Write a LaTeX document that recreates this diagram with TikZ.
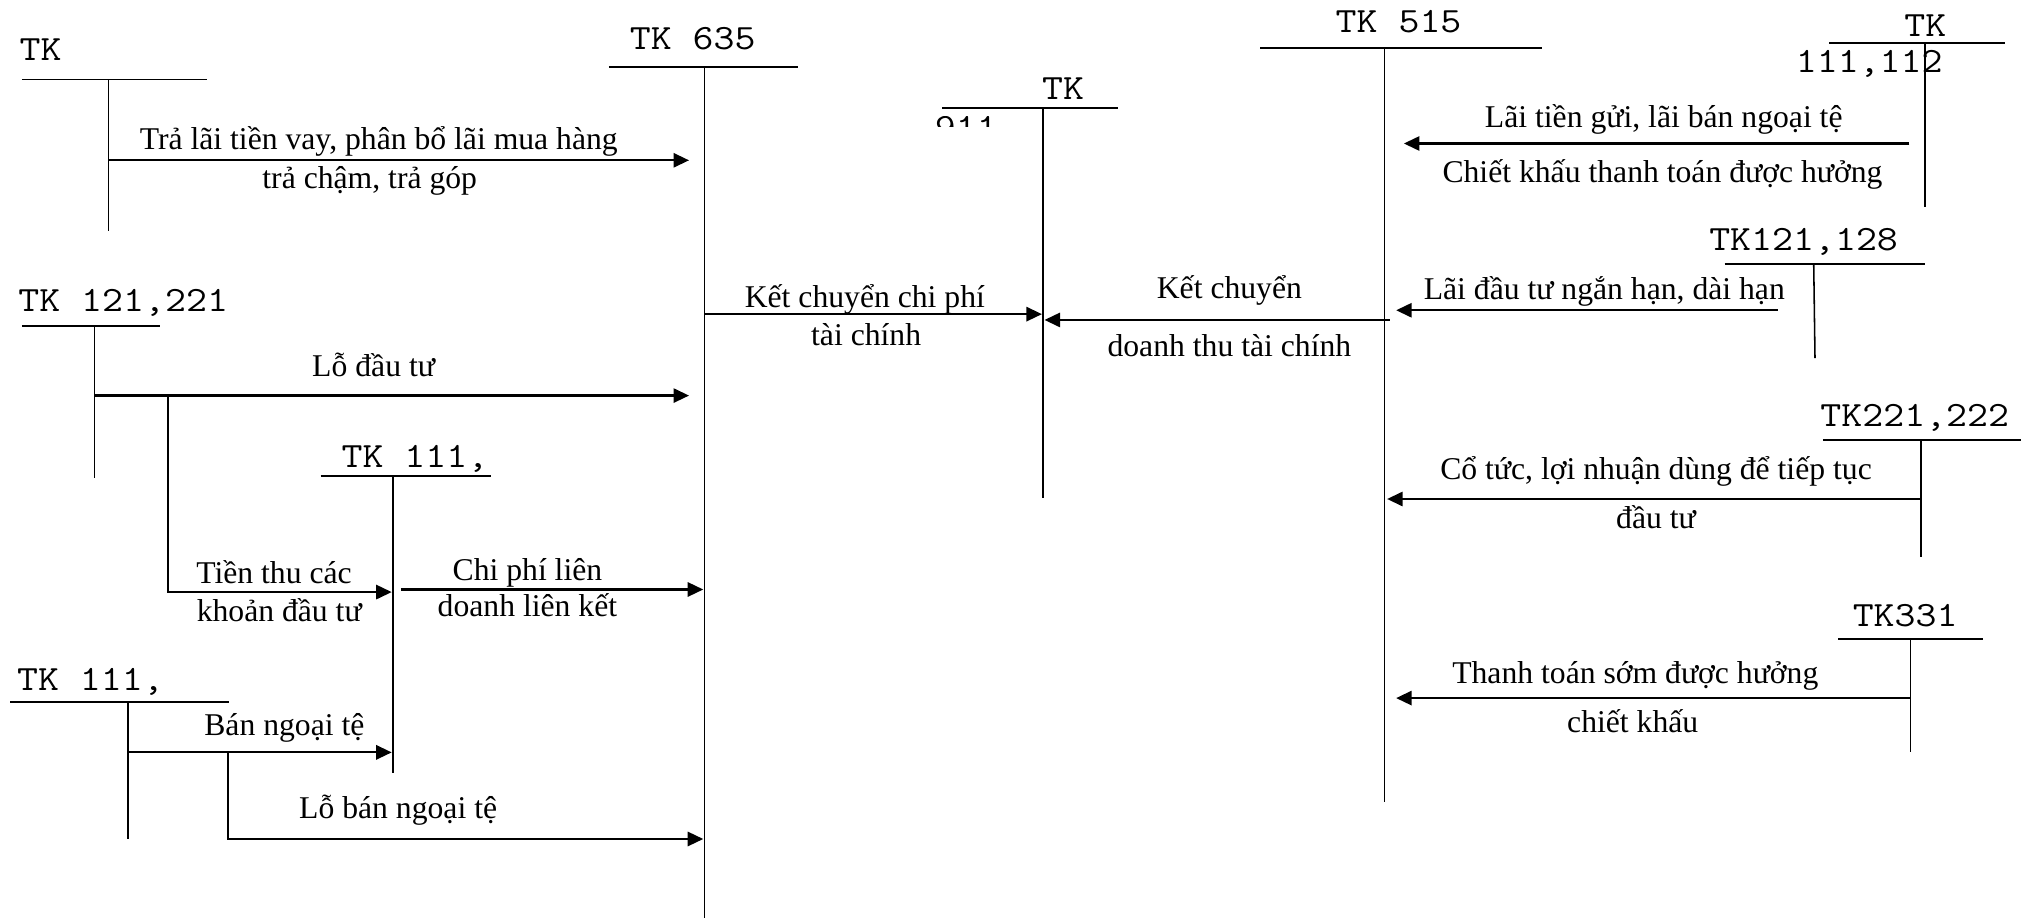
\documentclass[tikz,border=0pt]{standalone}
\usepackage{fontspec}
\usepackage{graphicx}
\setmainfont{Liberation Serif}
\usetikzlibrary{arrows.meta}
\newcommand{\tkt}[1]{\scalebox{1.145}[1]{#1}}
\tikzset{
  lbl/.style={font=\fontsize{24.5}{28}\selectfont, inner sep=0pt, anchor=base},
  tk/.style={font=\ttfamily\fontsize{27.5}{30}\selectfont, inner sep=0pt, anchor=base west},
  bar/.style={line width=1.5pt},
  post/.style={line width=1.2pt},
  flow/.style={line width=1.7pt, -{Triangle[length=12pt,width=11pt]}},
}
\begin{document}
\begin{tikzpicture}[x=1pt,y=-1pt]
\useasboundingbox (0,0) rectangle (1568,710);

% ---------- T-accounts ----------
% TK (top left)
\node[tk] (tkA) at (15,47) {\tkt{TK}};
\coordinate (aL) at (17,61.5); \coordinate (aR) at (160,61.5);
\coordinate (aT) at (84,61.5); \coordinate (aB) at (84,179);
\draw[bar] (aL) -- (aR); \draw[post] (aT) -- (aB);

% TK 635
\node[tk] (tk635) at (487,38) {\tkt{TK 635}};
\coordinate (cL) at (471,52); \coordinate (cR) at (617,52);
\coordinate (cT) at (545,52); \coordinate (cB) at (545,712);
\draw[bar] (cL) -- (cR); \draw[post] (cT) -- (cB);

% TK 515
\node[tk] (tk515) at (1033,25) {\tkt{TK 515}};
\coordinate (dL) at (975,37); \coordinate (dR) at (1193,37);
\coordinate (dT) at (1071,37); \coordinate (dB) at (1071,620);
\draw[bar] (dL) -- (dR); \draw[post] (dT) -- (dB);

% TK 911
\node[tk] (tk911) at (806,77) {\tkt{TK}};
\begin{scope}
  \clip (718,90.5) rectangle (790,98);
  \node[tk] (n911) at (723,107.5) {\tkt{911}};
\end{scope}
\coordinate (eL) at (729,83.5); \coordinate (eR) at (865,83.5);
\coordinate (eT) at (807,83.5); \coordinate (eB) at (807,385);
\draw[bar] (eL) -- (eR); \draw[post] (eT) -- (eB);

% TK 121,221
\node[tk] (tk121) at (14,241) {\tkt{TK 121,221}};
\coordinate (fL) at (17,252); \coordinate (fR) at (124,252);
\coordinate (fT) at (73,252); \coordinate (fB) at (73,370);
\draw[bar] (fL) -- (fR); \draw[post] (fT) -- (fB);

% TK 111, (middle)
\node[tk] (tk111m) at (264,362) {\tkt{TK 111,}};
\coordinate (gL) at (248,368); \coordinate (gR) at (380,368);
\coordinate (gT) at (304,368); \coordinate (gB) at (304,598);
\draw[bar] (gL) -- (gR); \draw[post] (gT) -- (gB);

% TK 111, (bottom left)
\node[tk] (tk111b) at (13,534.5) {\tkt{TK 111,}};
\coordinate (hL) at (8,543); \coordinate (hR) at (177,543);
\coordinate (hT) at (99,543); \coordinate (hB) at (99,649);
\draw[bar] (hL) -- (hR); \draw[post] (hT) -- (hB);

% TK 111,112 (top right)
\node[tk] (tk112a) at (1473,28) {\tkt{TK}};
\node[tk] (tk112b) at (1389,56) {\tkt{111,112}};
\coordinate (iL) at (1415,33.5); \coordinate (iR) at (1551,33.5);
\coordinate (iT) at (1489,33.5); \coordinate (iB) at (1489,160);
\draw[bar] (iL) -- (iR); \draw[post] (iT) -- (iB);

% TK121,128
\node[tk] (tk128) at (1322,194) {\tkt{TK121,128}};
\coordinate (jL) at (1334,204); \coordinate (jR) at (1489,204);
\coordinate (jT) at (1403,204); \coordinate (jB) at (1404,277);
\draw[bar] (jL) -- (jR); \draw[post] (jT) -- (jB);

% TK221,222
\node[tk] (tk222) at (1408,330) {\tkt{TK221,222}};
\coordinate (kL) at (1410,340); \coordinate (kR) at (1563,340);
\coordinate (kT) at (1486,340); \coordinate (kB) at (1486,431);
\draw[bar] (kL) -- (kR); \draw[post] (kT) -- (kB);

% TK331
\node[tk] (tk331) at (1433,485) {\tkt{TK331}};
\coordinate (lL) at (1422,494); \coordinate (lR) at (1534,494);
\coordinate (lT) at (1478,494); \coordinate (lB) at (1478,582);
\draw[bar] (lL) -- (lR); \draw[post] (lT) -- (lB);

% ---------- flows ----------
% 1
\coordinate (f1s) at (84,124); \coordinate (f1e) at (533,124);
\draw[flow] (f1s) -- (f1e);
\node[lbl] (t1a) at (293,116) {Trả lãi tiền vay, phân bổ lãi mua hàng};
\node[lbl] (t1b) at (286,146) {trả chậm, trả góp};

% 2
\coordinate (f2s) at (73,306); \coordinate (f2e) at (533,306);
\draw[flow] (f2s) -- (f2e);
\node[lbl] (t2) at (289,291.5) {Lỗ đầu tư};

% 3
\coordinate (f3s) at (130,306); \coordinate (f3m) at (130,458); \coordinate (f3e) at (303,458);
\draw[flow] (f3s) -- (f3m) -- (f3e);
\node[lbl] (t3a) at (212,451) {Tiền thu các};
\node[lbl] (t3b) at (216,481) {khoản đầu tư};

% 4
\coordinate (f4s) at (310,456); \coordinate (f4e) at (544,456);
\draw[flow] (f4s) -- (f4e);
\node[lbl] (t4a) at (408,449) {Chi phí liên};
\node[lbl] (t4b) at (408,477) {doanh liên kết};

% 5
\coordinate (f5s) at (99,582); \coordinate (f5e) at (303,582);
\draw[flow] (f5s) -- (f5e);
\node[lbl] (t5) at (220,569) {Bán ngoại tệ};

% 6
\coordinate (f6s) at (176.5,582); \coordinate (f6m) at (176.5,649); \coordinate (f6e) at (544,649);
\draw[flow] (f6s) -- (f6m) -- (f6e);
\node[lbl] (t6) at (308,633) {Lỗ bán ngoại tệ};

% 7
\coordinate (f7s) at (545,243); \coordinate (f7e) at (806,243);
\draw[flow] (f7s) -- (f7e);
\node[lbl] (t7a) at (669,237.5) {Kết chuyển chi phí};
\node[lbl] (t7b) at (670,267) {tài chính};

% 8
\coordinate (f8s) at (1075,247.5); \coordinate (f8e) at (808,247.5);
\draw[flow] (f8s) -- (f8e);
\node[lbl] (t8a) at (951,231) {Kết chuyển};
\node[lbl] (t8b) at (951,275.5) {doanh thu tài chính};

% 9
\coordinate (f9s) at (1477,111); \coordinate (f9e) at (1086,111);
\draw[flow] (f9s) -- (f9e);
\node[lbl] (t9a) at (1287,99) {Lãi tiền gửi, lãi bán ngoại tệ};
\node[lbl] (t9b) at (1286,141) {Chiết khấu thanh toán được hưởng};

% 10
\coordinate (f10s) at (1375,240); \coordinate (f10e) at (1080,240);
\draw[flow] (f10s) -- (f10e);
\node[lbl] (t10) at (1241,232) {Lãi đầu tư ngắn hạn, dài hạn};

% 11
\coordinate (f11s) at (1486,386); \coordinate (f11e) at (1073,386);
\draw[flow] (f11s) -- (f11e);
\node[lbl] (t11a) at (1281,371) {Cổ tức, lợi nhuận dùng để tiếp tục};
\node[lbl] (t11b) at (1281,409) {đầu tư};

% 12
\coordinate (f12s) at (1478,540); \coordinate (f12e) at (1080,540);
\draw[flow] (f12s) -- (f12e);
\node[lbl] (t12a) at (1265,529) {Thanh toán sớm được hưởng};
\node[lbl] (t12b) at (1263,567) {chiết khấu};
\end{tikzpicture}
\end{document}
